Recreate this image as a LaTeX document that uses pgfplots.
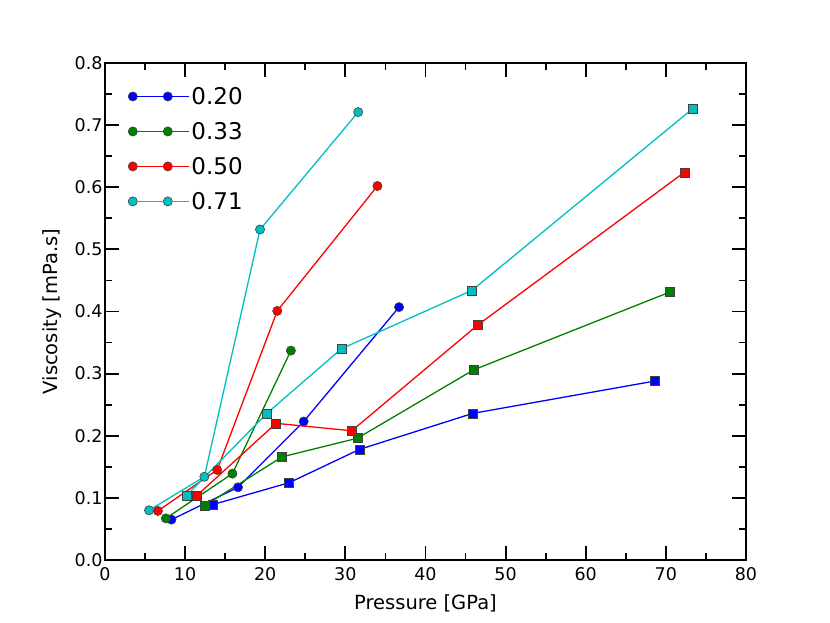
\documentclass[border=0pt]{standalone}
\usepackage{fontspec}
\setmainfont{DejaVu Sans}
\usepackage{pgfplots}
\pgfplotsset{compat=1.18}
\definecolor{mb}{rgb}{0,0,1}
\definecolor{mg}{rgb}{0,0.5,0}
\definecolor{mr}{rgb}{1,0,0}
\definecolor{mc}{rgb}{0,0.75,0.75}
\begin{document}
\begin{tikzpicture}[x=1pt,y=1pt]
\path[use as bounding box] (0,0) rectangle (830,623);
\begin{axis}[
  at={(105pt,63pt)}, anchor=south west,
  scale only axis, width=641pt, height=497pt,
  xmin=0, xmax=80, ymin=0, ymax=0.8,
  xtick={0,10,20,30,40,50,60,70,80},
  ytick={0,0.1,0.2,0.3,0.4,0.5,0.6,0.7,0.8},
  minor xtick={5,15,25,35,45,55,65,75},
  minor ytick={0.05,0.15,0.25,0.35,0.45,0.55,0.65,0.75},
  tick align=inside, major tick length=14pt, minor tick length=7pt,
  every tick/.style={line width=1.8pt, black},
  axis line style={line width=1.8pt},
  tick label style={font=\fontsize{17.5}{20}\selectfont},
  /pgf/number format/assume math mode=true,
  yticklabel style={xshift=1pt, /pgf/number format/.cd, fixed, fixed zerofill, precision=1},
  xticklabel style={yshift=-4pt},
  xlabel={Pressure [GPa]},
  ylabel={Viscosity [mPa.s]},
  every axis x label/.style={at={(axis description cs:0.5,0)}, anchor=center, yshift=-43pt, font=\fontsize{19.5}{22}\selectfont},
  every axis y label/.style={at={(axis description cs:-0.083,0.5)}, anchor=center, rotate=90, font=\fontsize{19.5}{22}\selectfont},
  legend style={draw=none, fill=none, at={(0,1)}, anchor=north west, xshift=20pt, yshift=-20pt,
    font=\fontsize{23}{27}\selectfont, row sep=12.4pt},
  legend cell align=left,
  legend image code/.code={\draw[#1] plot coordinates {(0pt,0pt) (35pt,0pt)}; \path (0pt,0pt) -- (56pt,0pt);},
  every axis plot/.append style={line width=1.3pt},
  circ/.style={mark=*, mark size=4.6pt, mark options={draw=black!75, line width=0.6pt}},
  sq/.style={mark=square*, mark size=4.5pt, mark options={draw=black!75, line width=0.6pt}},
]
\addplot[mb, circ] coordinates {(8.3,0.065) (16.6,0.117) (24.8,0.223) (36.7,0.407)};
\addlegendentry{0.20}
\addplot[mg, circ] coordinates {(7.6,0.067) (15.9,0.139) (23.2,0.337)};
\addlegendentry{0.33}
\addplot[mr, circ] coordinates {(6.6,0.079) (14.0,0.145) (21.5,0.401) (34.0,0.602)};
\addlegendentry{0.50}
\addplot[mc, circ] coordinates {(5.5,0.080) (12.4,0.134) (19.35,0.532) (31.6,0.721)};
\addlegendentry{0.71}
\addplot[mb, sq, forget plot] coordinates {(13.4,0.089) (23.0,0.1245) (31.75,0.178) (45.9,0.236) (68.6,0.288)};
\addplot[mg, sq, forget plot] coordinates {(12.5,0.088) (22.1,0.166) (31.5,0.196) (46.0,0.306) (70.45,0.431)};
\addplot[mr, sq, forget plot] coordinates {(11.4,0.103) (21.35,0.220) (30.8,0.208) (46.5,0.378) (72.3,0.624)};
\addplot[mc, sq, forget plot] coordinates {(10.2,0.104) (20.2,0.236) (29.5,0.340) (45.8,0.434) (73.3,0.726)};
\end{axis}
\end{tikzpicture}
\end{document}
